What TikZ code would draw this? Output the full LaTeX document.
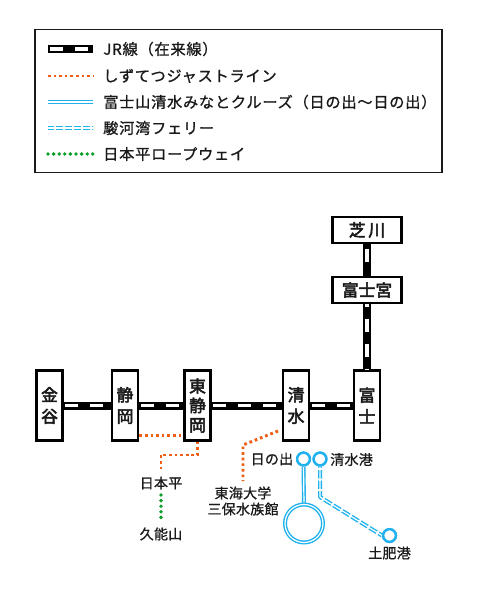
\documentclass[tikz,border=0pt]{standalone}
\usepackage{fontspec}
\setmainfont{Noto Sans CJK JP}
\newfontfamily\lgfont[LetterSpace=5,FakeBold=1]{Noto Sans CJK JP}
\newfontfamily\lbfont[LetterSpace=2,FakeBold=0.8]{Noto Sans CJK JP}
\newfontfamily\boxfont[FakeBold=3]{Noto Sans CJK JP}
\definecolor{orangeln}{HTML}{EE5F14}
\definecolor{blueln}{HTML}{1FB2EE}
\definecolor{greenln}{HTML}{0E9E2A}
\definecolor{inkc}{HTML}{1A1A1A}
\tikzset{
  x=0.75pt,y=-0.75pt,
  stationbox/.style={draw=black,line width=2.1pt,fill=white,align=center,inner sep=0pt,font=\boxfont\fontsize{12.6}{14.6}\selectfont,text=inkc},
  tallbox/.style={stationbox,minimum width=19.5pt,minimum height=52pt},
  widebox/.style={stationbox,minimum width=52pt,minimum height=19.5pt},
  lbl/.style={inner sep=0pt,font=\lbfont\fontsize{10.5}{12}\selectfont,text=inkc,align=center},
  legendlbl/.style={inner sep=0pt,anchor=west,font=\lgfont\fontsize{11.4}{12}\selectfont,text=inkc},
  railblack/.style={draw=black,line width=6pt},
  railwhite/.style={draw=white,line width=2.3pt,dash pattern=on 9.75pt off 9pt},
  orangedots/.style={draw=orangeln,line width=2.2pt,dash pattern=on 2pt off 2.2pt},
  greendots/.style={draw=greenln,line width=2.9pt,line cap=round,dash pattern=on 0pt off 4.2pt},
  blueouter/.style={draw=blueln,line width=3pt},
  whiteinner/.style={draw=white,line width=0.9pt},
  ferrygap/.style={draw=white,line width=3.4pt,dash pattern=on 1.5pt off 6.5pt,dash phase=7pt},
  stop/.style={circle,draw=blueln,line width=1.8pt,fill=white,minimum size=9.5pt,inner sep=0pt},
}
\begin{document}
\begin{tikzpicture}
\useasboundingbox (0,0) rectangle (480,600);
\fill[white] (0,0) rectangle (480,600);
% legend
\node[draw=inkc,line width=1.2pt,minimum width=305pt,minimum height=107.5pt,inner sep=0pt] (legend) at (238.5,101) {};
\coordinate (la) at (48,49); \coordinate (lb) at (93,49);
\coordinate (oa) at (48,76); \coordinate (ob) at (93,76);
\coordinate (ba) at (48,102); \coordinate (bb) at (93,102);
\coordinate (fa) at (48,128); \coordinate (fb) at (93,128);
\coordinate (ga) at (48,154); \coordinate (gb) at (95,154);
\draw[railblack] (la) -- (lb);
\draw[railwhite,dash phase=-1.5pt] (la) -- (lb);
\draw[orangedots] (oa) -- (ob);
\draw[blueouter] (ba) -- (bb);
\draw[whiteinner] (ba) -- (bb);
\draw[blueouter] (fa) -- (fb);
\draw[whiteinner] (fa) -- (fb);
\draw[draw=white,line width=3.4pt,dash pattern=on 1.5pt off 5.2pt,dash phase=-4.5pt] (fa) -- (fb);
\draw[greendots] (ga) -- (gb);
\node[legendlbl] (t1) at (103,49) {JR線（在来線）};
\node[legendlbl] (t2) at (103,76) {しずてつジャストライン};
\node[legendlbl] (t3) at (103,102) {富士山清水みなとクルーズ（日の出〜日の出）};
\node[legendlbl] (t4) at (103,128) {駿河湾フェリー};
\node[legendlbl] (t5) at (103,154) {日本平ロープウェイ};
% stations
\node[tallbox] (kanaya) at (49.5,405.5) {金\\[1.5pt]谷};
\node[tallbox] (shizuoka) at (125,405.5) {静\\[1.5pt]岡};
\node[tallbox] (higashi) at (197.5,405.5) {東\\静\\岡};
\node[tallbox] (shimizu) at (296,405.5) {清\\[1.5pt]水};
\node[tallbox] (fuji) at (367,405.5) {富\\[1.5pt]士};
\node[widebox] (shibakawa) at (367,230) {芝\,川};
\node[widebox] (fujinomiya) at (367,290) {富士宮};
% rails
\foreach \p/\q in {kanaya/shizuoka,shizuoka/higashi,higashi/shimizu,shimizu/fuji}{
  \draw[railblack] (\p.east) -- (\q.west);
  \draw[railwhite,dash phase=-1pt] (\p.east) -- (\q.west);
}
\draw[railblack] (shibakawa.south) -- (fujinomiya.north);
\draw[railwhite,dash pattern=on 9.5pt off 20pt,dash phase=-3.5pt] (shibakawa.south) -- (fujinomiya.north);
\draw[railblack] (fujinomiya.south) -- (fuji.north);
\draw[railwhite,dash phase=8pt] (fujinomiya.south) -- (fuji.north);
% orange
\node[lbl] (nihondaira) at (161,483) {日本平};
\node[lbl] (kunozan) at (161,534) {久能山};
\node[lbl] (tokai) at (243,501) {東海大学\\三保水族館};
\coordinate (o1) at (139,435.5);
\coordinate (o2) at (184,435.5);
\draw[orangedots] (shizuoka.east |- o1) -- (higashi.west |- o2);
\coordinate (o3) at (197.5,455);
\coordinate (o4) at (161,455);
\coordinate (o7) at (161,472);
\draw[orangedots] (higashi.south) -- (o3) -- (o4) -- (o7);
\coordinate (o5) at (278,431);
\coordinate (o6) at (243,445);
\coordinate (o8) at (243,481);
\draw[orangedots] (o5) -- (o6) -- (o8);
% green
\coordinate (g1) at (161,495);
\coordinate (g2) at (161,520);
\draw[greendots] (g1) -- (g2);
% blue stops
\node[stop] (hinode) at (303.5,459) {};
\node[stop] (seaport) at (320,459) {};
\node[stop] (toi) at (389.5,535.5) {};
\node[circle,minimum size=29.5pt,inner sep=0pt] (loop) at (304,523.5) {};
\draw[blueouter] (hinode.south) -- (loop.north);
\draw[whiteinner] (hinode.south) -- (loop.north);
\draw[blueln,line width=3pt] (loop) circle (19);
\draw[white,line width=0.9pt] (loop) circle (19);
\coordinate (bend) at (320,497);
\draw[blueouter,line join=round] (seaport.south) -- (bend) -- (toi.west);
\draw[whiteinner,line join=round] (seaport.south) -- (bend) -- (toi.west);
\draw[ferrygap] (seaport.south) -- (bend) -- (toi.west);
\node[stop] at (hinode) {};
\node[stop] at (seaport) {};
\node[stop] at (toi) {};
\node[lbl,anchor=east] (l1) at (293.5,459) {日の出};
\node[lbl,anchor=west] (l2) at (330,459.5) {清水港};
\node[lbl] (l3) at (389.5,553) {土肥港};
\end{tikzpicture}
\end{document}
